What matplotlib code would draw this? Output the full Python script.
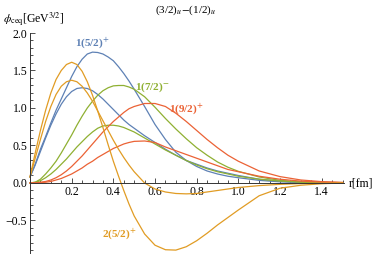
import matplotlib
matplotlib.use('Agg')
import matplotlib.pyplot as plt
from matplotlib.ticker import MultipleLocator, FixedLocator

# r grid [fm]
r = [0.0, 0.025, 0.05, 0.075, 0.1, 0.125, 0.15, 0.175, 0.2, 0.225, 0.25,
     0.275, 0.3, 0.325, 0.35, 0.375, 0.4, 0.425, 0.45, 0.475, 0.5,
     0.55, 0.6, 0.65, 0.7, 0.75, 0.8, 0.85, 0.9, 0.95, 1.0,
     1.1, 1.2, 1.3, 1.4, 1.5]

# 1(5/2)+ pair (blue)
blue_a = [0.08, 0.25, 0.45, 0.62, 0.80, 0.97, 1.12, 1.27, 1.42, 1.55, 1.65,
          1.72, 1.745, 1.74, 1.72, 1.68, 1.63, 1.55, 1.46, 1.36, 1.25,
          1.02, 0.78, 0.58, 0.41, 0.30, 0.22, 0.16, 0.12, 0.09, 0.07,
          0.035, 0.015, 0.005, 0.0, 0.0]
blue_b = [0.08, 0.24, 0.42, 0.60, 0.77, 0.92, 1.05, 1.15, 1.22, 1.26, 1.27,
          1.26, 1.23, 1.18, 1.12, 1.05, 0.98, 0.91, 0.84, 0.78, 0.73,
          0.63, 0.54, 0.45, 0.37, 0.30, 0.25, 0.20, 0.16, 0.13, 0.10,
          0.05, 0.025, 0.01, 0.0, 0.0]
# 1(7/2)- pair (green)
green_a = [0.0, 0.01, 0.05, 0.12, 0.20, 0.29, 0.40, 0.52, 0.64, 0.77, 0.89,
           1.00, 1.09, 1.17, 1.23, 1.27, 1.295, 1.30, 1.30, 1.28, 1.25,
           1.15, 1.01, 0.86, 0.72, 0.59, 0.47, 0.37, 0.28, 0.21, 0.155,
           0.08, 0.035, 0.015, 0.005, 0.0]
green_b = [0.0, 0.01, 0.03, 0.07, 0.12, 0.18, 0.25, 0.32, 0.40, 0.48, 0.55,
           0.62, 0.68, 0.73, 0.76, 0.77, 0.77, 0.76, 0.74, 0.71, 0.68,
           0.60, 0.52, 0.44, 0.37, 0.30, 0.24, 0.19, 0.15, 0.12, 0.09,
           0.05, 0.025, 0.01, 0.004, 0.0]
# 1(9/2)+ pair (red)
red_a = [0.0, 0.0, 0.01, 0.02, 0.04, 0.07, 0.11, 0.16, 0.22, 0.29, 0.36,
         0.44, 0.52, 0.60, 0.68, 0.75, 0.82, 0.88, 0.94, 0.99, 1.02,
         1.06, 1.06, 1.02, 0.93, 0.82, 0.70, 0.58, 0.47, 0.37, 0.29,
         0.16, 0.085, 0.04, 0.018, 0.008]
red_b = [0.0, 0.0, 0.005, 0.01, 0.02, 0.04, 0.06, 0.09, 0.12, 0.16, 0.20,
         0.25, 0.29, 0.34, 0.38, 0.42, 0.46, 0.49, 0.52, 0.54, 0.555,
         0.56, 0.54, 0.48, 0.43, 0.38, 0.33, 0.28, 0.23, 0.18, 0.15,
         0.09, 0.05, 0.025, 0.012, 0.005]
# 2(5/2)+ pair (orange), with node
orange_a = [0.08, 0.40, 0.70, 0.97, 1.20, 1.38, 1.50, 1.58, 1.61, 1.58, 1.49,
            1.35, 1.17, 0.96, 0.74, 0.51, 0.29, 0.09, -0.10, -0.28, -0.44,
            -0.68, -0.83, -0.89, -0.895, -0.85, -0.77, -0.67, -0.56, -0.46, -0.36,
            -0.17, -0.07, -0.03, -0.01, 0.0]
orange_b = [0.08, 0.33, 0.58, 0.82, 1.02, 1.18, 1.29, 1.35, 1.37, 1.35, 1.29,
            1.20, 1.09, 0.96, 0.83, 0.70, 0.57, 0.45, 0.34, 0.24, 0.15,
            0.0, -0.08, -0.12, -0.14, -0.145, -0.14, -0.12, -0.10, -0.08, -0.06,
            -0.035, -0.018, -0.008, -0.003, 0.0]

BLUE = '#5E81B5'
ORANGE = '#E19C24'
GREEN = '#8FB032'
RED = '#EB6235'

plt.rcParams['font.family'] = ['Liberation Serif', 'DejaVu Serif']
plt.rcParams['mathtext.fontset'] = 'stix'

fig = plt.figure(figsize=(3.74, 2.54), dpi=100)
ax = fig.add_axes([30 / 374, 0.0, (344 - 30) / 374, (254 - 33) / 254])

for ys, c in [(blue_a, BLUE), (blue_b, BLUE), (green_a, GREEN), (green_b, GREEN),
              (red_a, RED), (red_b, RED), (orange_a, ORANGE), (orange_b, ORANGE)]:
    ax.plot(r, ys, color=c, lw=0.9, clip_on=False)

ax.set_xlim(0, 1.507)
ax.set_ylim(-0.947, 2.0)
ax.spines['top'].set_visible(False)
ax.spines['right'].set_visible(False)
ax.spines['bottom'].set_position(('data', 0))
for s in ('left', 'bottom'):
    ax.spines[s].set_color('#333333')
    ax.spines[s].set_linewidth(0.7)

ax.xaxis.set_major_locator(FixedLocator([0.2, 0.4, 0.6, 0.8, 1.0, 1.2, 1.4]))
ax.xaxis.set_minor_locator(MultipleLocator(0.05))
ax.yaxis.set_major_locator(FixedLocator([-0.5, 0.0, 0.5, 1.0, 1.5, 2.0]))
ax.yaxis.set_minor_locator(MultipleLocator(0.1))
ax.tick_params(which='both', direction='in', color='#333333', width=0.6,
               labelsize=8.5, pad=2)
ax.tick_params(which='major', length=3.5)
ax.tick_params(which='minor', length=2)
ax.set_yticklabels(['\u22120.5', '0.0', '0.5', '1.0', '1.5', '2.0'])
ax.set_xticklabels(['0.2', '0.4', '0.6', '0.8', '1.0', '1.2', '1.4'])

# curve labels
ax.text(0.298, 1.87, r'1(5/2)$^{\mathbf{+}}$', color=BLUE, fontsize=8,
        fontweight='bold', ha='center', va='center')
ax.text(0.586, 1.27, r'1(7/2)$^{\mathbf{-}}$', color=GREEN, fontsize=8,
        fontweight='bold', ha='center', va='center')
ax.text(0.75, 0.99, r'1(9/2)$^{\mathbf{+}}$', color=RED, fontsize=8,
        fontweight='bold', ha='center', va='center')
ax.text(0.43, -0.67, r'2(5/2)$^{\mathbf{+}}$', color=ORANGE, fontsize=8,
        fontweight='bold', ha='center', va='center')

fig.text(186 / 374, 1 - 10 / 254, r'(3/2)$_{u}$$-$(1/2)$_{u}$', fontsize=8,
         ha='center', va='center')
fig.text(3 / 374, 1 - 19 / 254, r'$\phi_{\mathrm{ceq}}$[GeV$^{3/2}$]', fontsize=8.5,
         ha='left', va='center')
fig.text(349 / 374, 1 - 183 / 254, 'r[fm]', fontsize=8.5, ha='left', va='center')

fig.savefig('out.png', dpi=100)
